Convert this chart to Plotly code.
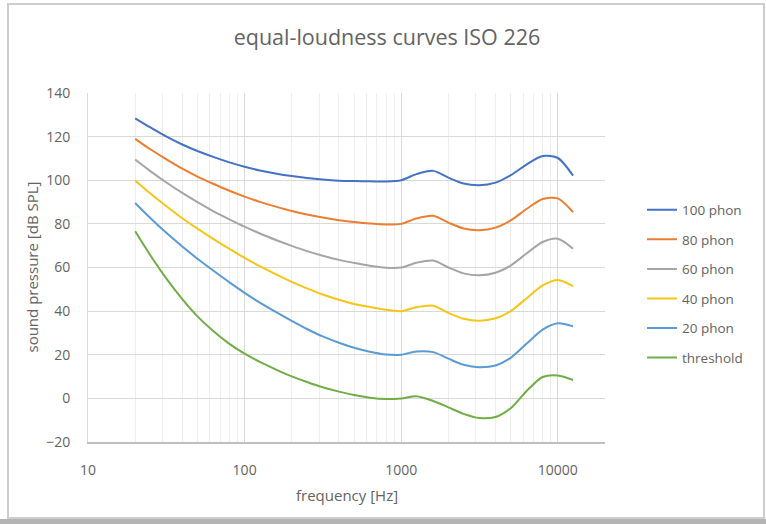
import plotly.graph_objects as go

freq = [20, 25, 31.5, 40, 50, 63, 80, 100, 125, 160, 200, 250, 315, 400, 500,
        630, 800, 1000, 1250, 1600, 2000, 2500, 3150, 4000, 5000, 6300, 8000,
        10000, 12500]

phon100 = [128.4, 124.2, 120.1, 116.4, 113.4, 110.7, 108.2, 106.2, 104.5, 103.0,
           101.9, 101.0, 100.3, 99.8, 99.6, 99.5, 99.4, 100.0, 102.8, 104.3,
           101.2, 98.5, 97.7, 98.9, 102.3, 107.2, 111.1, 110.2, 102.1]
phon80 = [119.0, 114.2, 109.7, 105.3, 101.7, 98.4, 95.2, 92.5, 90.1, 87.8,
          85.9, 84.3, 82.9, 81.7, 80.9, 80.2, 79.7, 80.0, 82.5, 83.7,
          80.6, 77.9, 77.1, 78.3, 81.6, 86.8, 91.4, 91.7, 85.4]
phon60 = [109.5, 104.2, 99.1, 94.2, 90.0, 85.9, 82.1, 78.7, 75.6, 72.5,
          69.9, 67.5, 65.4, 63.5, 62.1, 60.8, 59.9, 60.0, 62.2, 63.2,
          60.0, 57.3, 56.4, 57.6, 60.9, 66.4, 71.7, 73.2, 68.6]
phon40 = [99.9, 93.9, 88.2, 82.6, 77.8, 73.1, 68.5, 64.4, 60.6, 56.7,
          53.4, 50.4, 47.6, 45.2, 43.3, 41.9, 40.6, 40.0, 41.8, 42.5,
          39.2, 36.5, 35.6, 36.7, 40.0, 45.8, 51.8, 54.3, 51.5]
phon20 = [89.6, 82.7, 76.0, 69.6, 64.0, 58.6, 53.2, 48.4, 43.9, 39.4,
          35.5, 31.8, 28.4, 25.5, 23.2, 21.4, 20.1, 20.0, 21.5, 21.2,
          18.2, 15.4, 14.3, 15.1, 18.6, 25.0, 31.5, 34.4, 33.0]
threshold = [76.6, 65.6, 55.1, 45.5, 37.6, 30.9, 25.0, 20.5, 16.7, 13.1,
             10.1, 7.5, 5.1, 3.1, 1.5, 0.3, -0.3, 0.0, 1.0, -1.2,
             -4.1, -7.1, -9.0, -8.5, -4.5, 3.3, 9.8, 10.5, 8.4]

series_names = ["100 phon", "80 phon", "60 phon", "40 phon", "20 phon", "threshold"]
series_values = [phon100, phon80, phon60, phon40, phon20, threshold]
series_colors = ["#4472C4", "#ED7D31", "#A5A5A5", "#F5C518", "#5B9BD5", "#70AD47"]

y_ticks = [-20, 0, 20, 40, 60, 80, 100, 120, 140]
x_ticks = [10, 100, 1000, 10000]

FONT = "Open Sans"
TXT = "#636363"

fig = go.Figure()
for name, vals, col in zip(series_names, series_values, series_colors):
    fig.add_trace(go.Scatter(
        x=freq, y=vals, name=name, mode="lines", legendgroup=name,
        line=dict(color=col, width=2, shape="spline", smoothing=0.8),
    ))

# plot area: x 88..605, y 93..442 (px)
W, H = 766, 524
L, T, R, B = 88, 93, 605, 442
PW, PH = R - L, B - T


def px_x(p):
    return (p - L) / PW


def px_y(p):
    return (B - p) / PH


shapes = [
    # outer chart frame
    dict(type="rect", xref="paper", yref="paper",
         x0=px_x(8), x1=px_x(764), y0=px_y(518), y1=px_y(4),
         line=dict(color="#CDCDCD", width=2), fillcolor="rgba(0,0,0,0)", layer="below"),
    # bottom grey band
    dict(type="rect", xref="paper", yref="paper",
         x0=px_x(0), x1=px_x(766), y0=px_y(525), y1=px_y(519),
         line=dict(width=0), fillcolor="#B4B4B4", layer="below"),
]

fig.update_layout(
    width=W, height=H,
    margin=dict(l=L, r=W - R, t=T, b=H - B),
    paper_bgcolor="white", plot_bgcolor="white",
    font=dict(family=FONT, color=TXT, size=12),
    title=dict(text="equal-loudness curves ISO 226", x=387 / W, xref="container",
               xanchor="center", y=1 - 37 / H, yref="container", yanchor="middle",
               font=dict(family=FONT, size=21.5, color=TXT)),
    showlegend=True,
    legend=dict(x=px_x(642), xanchor="left", y=px_y(284), yanchor="middle",
                font=dict(family=FONT, size=13.5, color=TXT),
                tracegroupgap=9, bgcolor="rgba(0,0,0,0)"),
    shapes=shapes,
    annotations=[
        dict(text="sound pressure [dB SPL]", xref="paper", yref="paper",
             x=px_x(31), y=0.5, textangle=-90, showarrow=False,
             xanchor="center", yanchor="middle",
             font=dict(family=FONT, size=15, color=TXT)),
        dict(text="frequency [Hz]", xref="paper", yref="paper",
             x=0.5, y=px_y(495), showarrow=False, xanchor="center", yanchor="middle",
             font=dict(family=FONT, size=15, color=TXT)),
    ],
)

fig.update_xaxes(
    type="log", range=[1, 4.301],
    tickvals=x_ticks, ticktext=[str(v) for v in x_ticks],
    showgrid=True, gridcolor="#D9D9D9", gridwidth=1,
    minor=dict(showgrid=True, gridcolor="#EEEEEE", gridwidth=1, dtick="D1", ticks=""),
    showline=True, linecolor="#BFBFBF", linewidth=1.5,
    ticks="", ticklabelstandoff=14, zeroline=False,
    tickfont=dict(family=FONT, size=14, color=TXT),
)
fig.update_yaxes(
    range=[-20, 140], tickvals=y_ticks,
    showgrid=True, gridcolor="#D9D9D9", gridwidth=1,
    showline=True, linecolor="#D9D9D9", linewidth=1,
    ticks="", ticklabelstandoff=14, zeroline=False,
    tickfont=dict(family=FONT, size=14, color=TXT),
)

fig.write_html("out.html", config={"displayModeBar": False},
               post_script="document.body.style.margin='0px';document.body.style.overflow='hidden';")
